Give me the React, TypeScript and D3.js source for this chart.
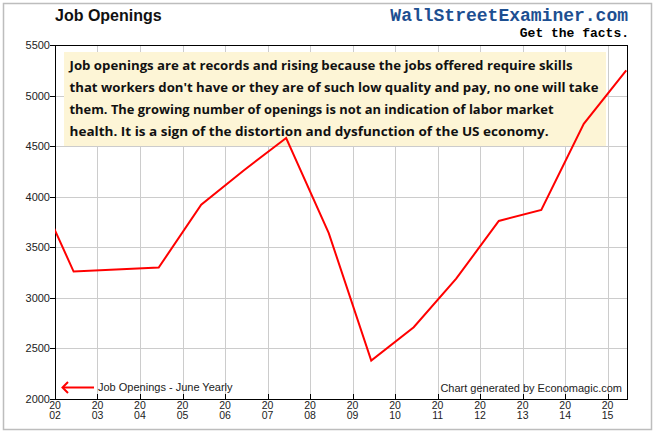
import React from "react";
import * as d3 from "d3";

const years = [2001, 2002, 2003, 2004, 2005, 2006, 2007, 2008, 2009, 2010, 2011, 2012, 2013, 2014, 2015];
const openings = [4190, 3260, 3280, 3300, 3920, 4260, 4580, 3640, 2380, 2710, 3190, 3760, 3870, 4720, 5250];
const yTicks = [2000, 2500, 3000, 3500, 4000, 4500, 5000, 5500];
const xTickYears = [2002, 2003, 2004, 2005, 2006, 2007, 2008, 2009, 2010, 2011, 2012, 2013, 2014, 2015];
const noteLines = [
  "Job openings are at records and rising because the jobs offered require skills",
  "that workers don't have or they are of such low quality and pay, no one will take",
  "them. The growing number of openings is not an indication of labor market",
  "health. It is a sign of the distortion and dysfunction of the US economy.",
];
const noteWidths = [503, 529, 484, 479];

const W = 656, H = 434;
const L = 55, T = 45, R = 628, B = 399;

export default function App() {
  const x = d3.scaleTime().domain([new Date(2002, 0, 1), new Date(2015, 5, 25)]).range([L, R]);
  const y = d3.scaleLinear().domain([2000, 5500]).range([B, T]);
  const pts = years.map((yr, i) => ({ d: new Date(yr, 5, 10), v: openings[i] }));
  const line = d3.line<{ d: Date; v: number }>().x((p) => x(p.d)).y((p) => y(p.v));
  const sans = "'Liberation Sans', Arial, sans-serif";
  const mono = "'Liberation Mono', 'Courier New', monospace";
  return (
    <svg width={W} height={H} style={{ position: "absolute", left: 0, top: 0, background: "#fff" }}>
      <defs>
        <clipPath id="plotclip">
          <rect x={L} y={T} width={R - L} height={B - T} />
        </clipPath>
      </defs>
      <rect x={3.5} y={3.5} width={648} height={426} fill="#fff" stroke="#bdbdbd" strokeWidth={1.5} />
      <text x={55} y={21} fontFamily={sans} fontWeight="bold" fontSize={16} fill="#111">Job Openings</text>
      <text x={628} y={21} textAnchor="end" fontFamily={mono} fontWeight="bold" fontSize={18} fill="#1d4f91">WallStreetExaminer.com</text>
      <text x={629} y={37} textAnchor="end" fontFamily={mono} fontWeight="bold" fontSize={13} fill="#000">Get the facts.</text>

      {/* gridlines */}
      {yTicks.map((t) => (
        <line key={"gy" + t} x1={L} x2={R} y1={Math.round(y(t)) + 0.5} y2={Math.round(y(t)) + 0.5} stroke="#cccccc" />
      ))}
      {xTickYears.map((yr) => (
        <line key={"gx" + yr} y1={T} y2={B} x1={Math.round(x(new Date(yr, 0, 1))) + 0.5} x2={Math.round(x(new Date(yr, 0, 1))) + 0.5} stroke="#cccccc" />
      ))}

      {/* note box */}
      <rect x={64} y={52} width={542} height={94} fill="#fdf5d6" />
      {noteLines.map((s, i) => (
        <text key={i} x={69.5} y={70 + i * 22} fontFamily="'Comic Sans MS', 'Open Sans', sans-serif" fontWeight="bold" fontSize={12} fill="#111" textLength={noteWidths[i]} lengthAdjust="spacingAndGlyphs">{s}</text>
      ))}

      {/* frame */}
      <rect x={L + 0.5} y={T + 0.5} width={R - L - 1} height={B - T} fill="none" stroke="#000" />

      {/* y ticks */}
      {yTicks.map((t) => (
        <g key={"ty" + t}>
          <line x1={L - 5} x2={L} y1={Math.round(y(t)) + 0.5} y2={Math.round(y(t)) + 0.5} stroke="#000" />
          <text x={50} y={y(t) + 4} textAnchor="end" fontFamily={sans} fontSize={11} fill="#222">{t}</text>
        </g>
      ))}
      {/* x ticks */}
      {xTickYears.map((yr) => {
        const xx = x(new Date(yr, 0, 1));
        const s = String(yr);
        return (
          <g key={"tx" + yr}>
            <line x1={Math.round(xx) + 0.5} x2={Math.round(xx) + 0.5} y1={B - 5} y2={B} stroke="#000" />
            <text x={xx} y={408.5} textAnchor="middle" fontFamily={sans} fontSize={10.5} fill="#222">{s.slice(0, 2)}</text>
            <text x={xx} y={419} textAnchor="middle" fontFamily={sans} fontSize={10.5} fill="#222">{s.slice(2)}</text>
          </g>
        );
      })}

      {/* data line */}
      <path d={line(pts) || ""} fill="none" stroke="#ff0000" strokeWidth={2} clipPath="url(#plotclip)" strokeLinejoin="miter" />

      {/* legend */}
      <line x1={63} x2={94} y1={387.5} y2={387.5} stroke="#ff0000" strokeWidth={2} />
      <path d="M68,382 L62.5,387.5 L68,393" fill="none" stroke="#ff0000" strokeWidth={2} />
      <text x={98} y={391} fontFamily={sans} fontSize={11} fill="#222">Job Openings - June Yearly</text>
      <text x={622} y={392} textAnchor="end" fontFamily={sans} fontSize={11} fill="#222">Chart generated by Economagic.com</text>
    </svg>
  );
}
